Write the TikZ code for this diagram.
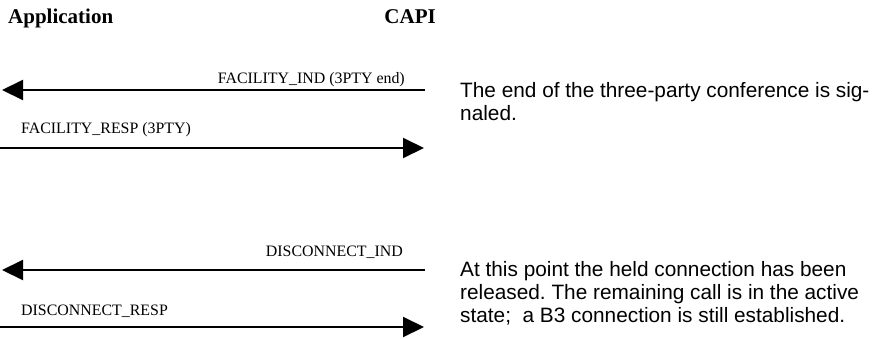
\documentclass[tikz,border=0pt]{standalone}
\usepackage{fontspec}
\setmainfont{Liberation Serif}
\newfontfamily\arialfont{Liberation Sans}
\usetikzlibrary{arrows.meta}
\frenchspacing
\begin{document}
\begin{tikzpicture}[x=1pt,y=-1pt,
  header/.style={inner sep=0pt,font=\fontsize{21}{24}\selectfont\bfseries},
  msglabel/.style={inner sep=0pt,font=\fontsize{15.9}{18}\selectfont},
  note/.style={inner sep=0pt,align=left,anchor=base west,font=\arialfont\fontsize{20.8}{23}\selectfont\frenchspacing},
  msg/.style={line width=2pt,-{Triangle[length=21pt,width=20pt]}}]
\useasboundingbox (0,0) rectangle (881,338);
\node[header,anchor=base west] (app) at (8,23.3) {Application};
\node[header,anchor=base east] (capi) at (436,23.3) {CAPI};
% coordinates of message ends
\coordinate (r1) at (425,90);  \coordinate (l1) at (2,90);
\coordinate (l2) at (0,148);   \coordinate (r2) at (424,148);
\coordinate (r3) at (425,270); \coordinate (l3) at (2,270);
\coordinate (l4) at (0,327);   \coordinate (r4) at (424,327);
\draw[msg] (r1) -- (l1);
\draw[msg] (l2) -- (r2);
\draw[msg] (r3) -- (l3);
\draw[msg] (l4) -- (r4);
\node[msglabel,anchor=base east] (m1) at (405,83) {FACILITY\_IND (3PTY end)};
\node[msglabel,anchor=base west] (m2) at (21,133) {FACILITY\_RESP (3PTY)};
\node[msglabel,anchor=base east] (m3) at (403,256.7) {DISCONNECT\_IND};
\node[msglabel,anchor=base west] (m4) at (21,315) {DISCONNECT\_RESP};
\node[note] (n1) at (460,120) {The end of the three-party conference is sig-\\naled.};
\node[note] (n2) at (460,322.5) {At this point the held connection has been\\released. The remaining call is in the active\\state;\ \ a B3 connection is still established.};
\end{tikzpicture}
\end{document}
